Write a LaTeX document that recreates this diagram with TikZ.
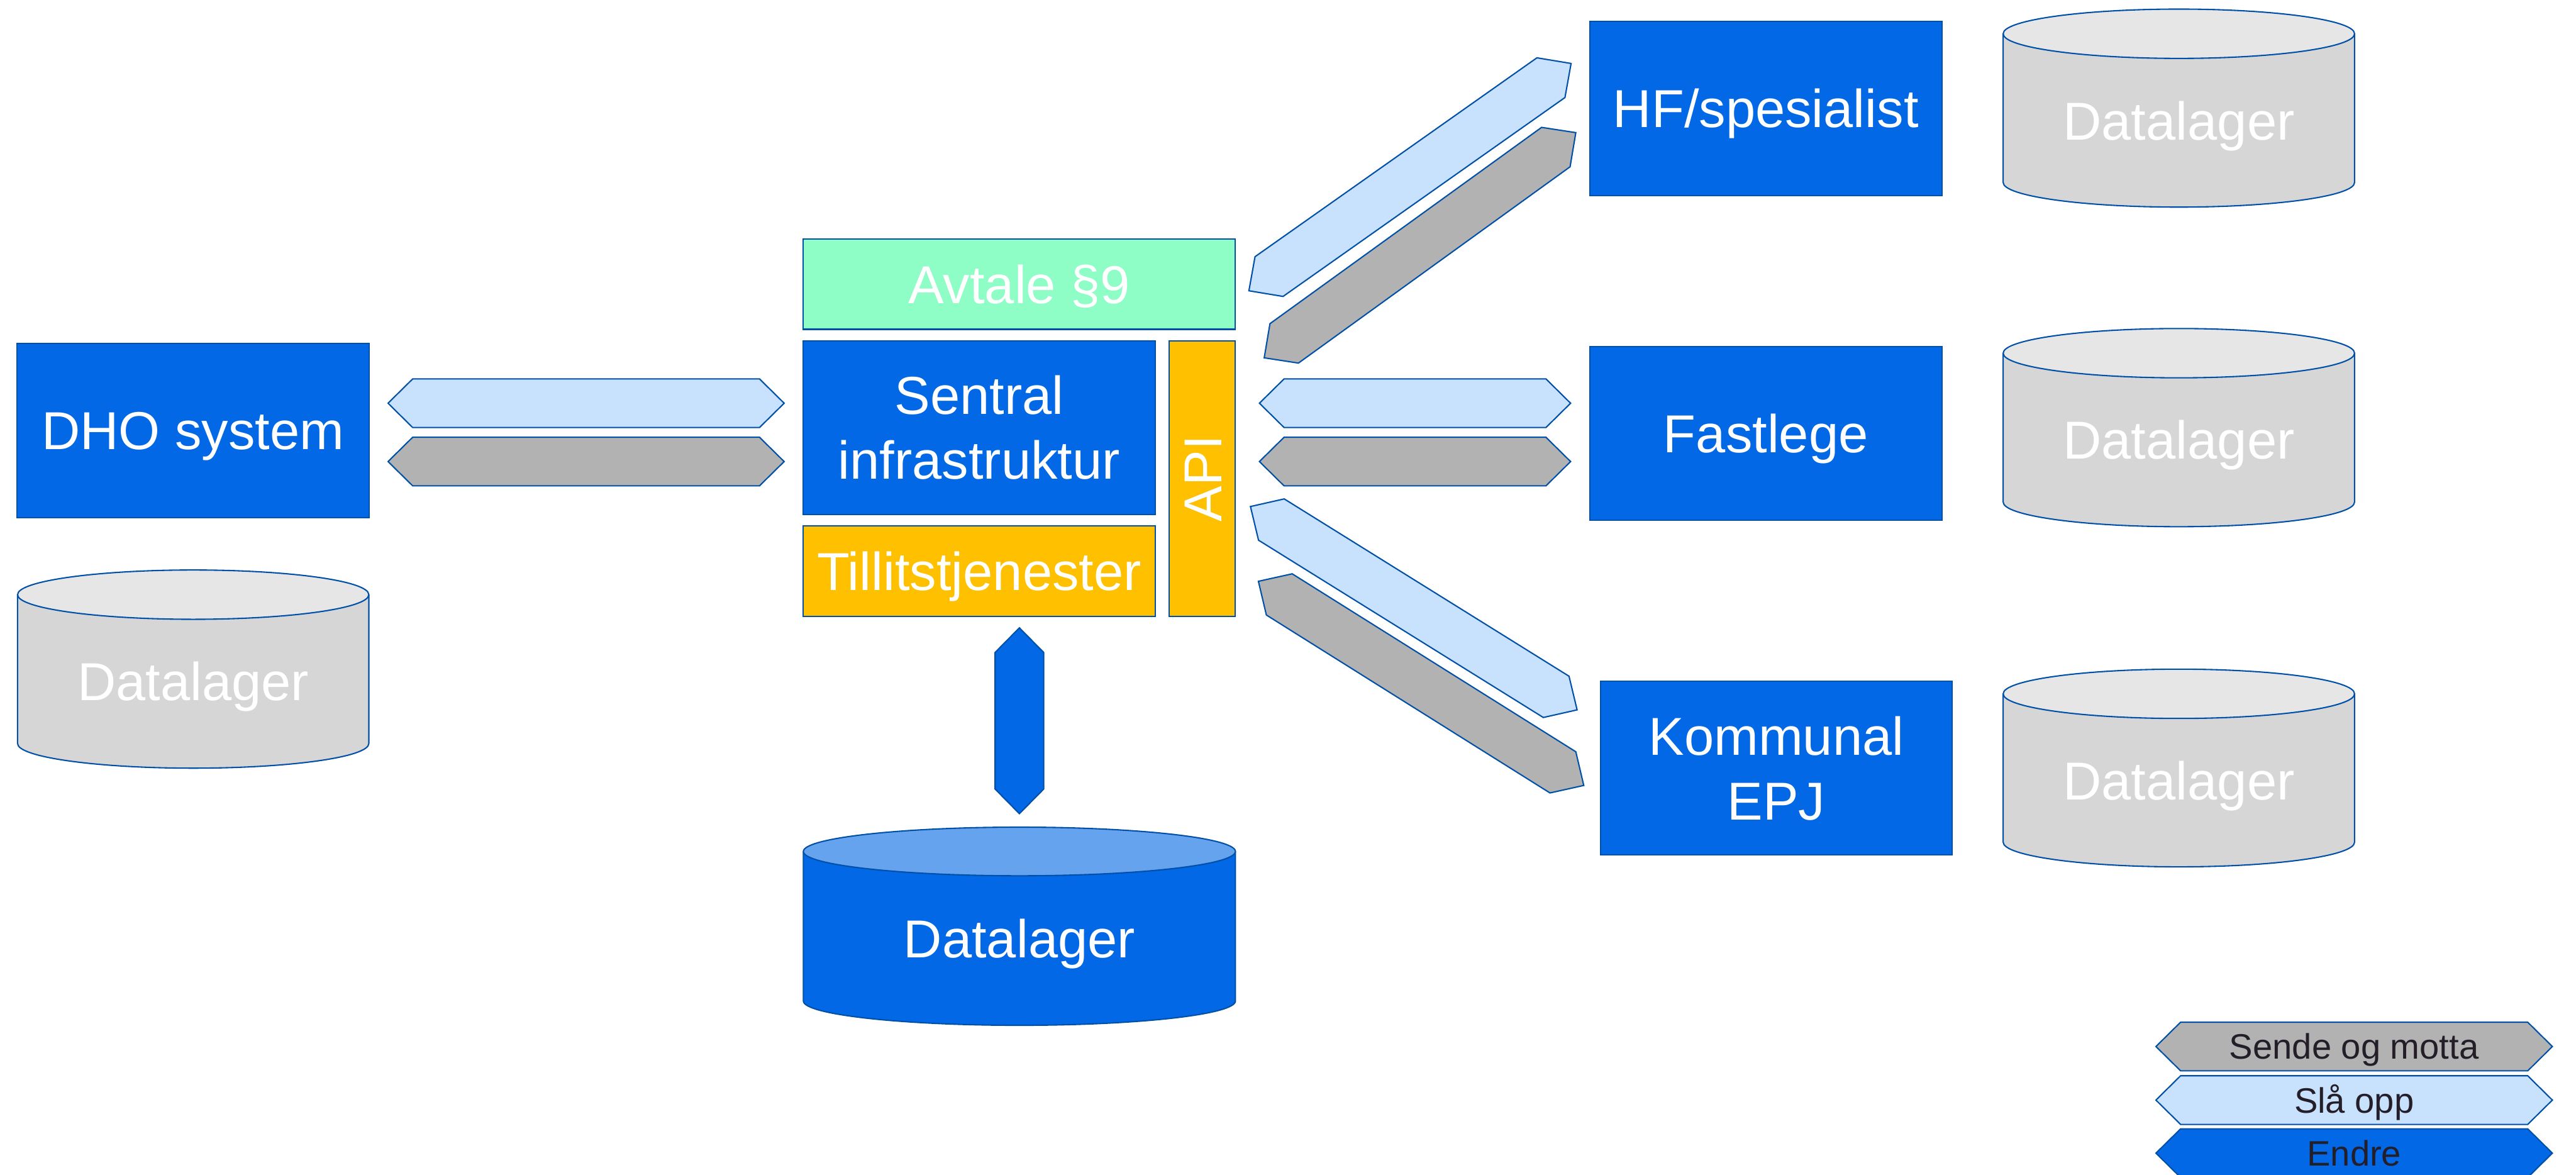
\documentclass[tikz,border=0pt]{standalone}
\usepackage{fontspec}
\setmainfont{Liberation Sans}

\tikzset{every picture/.style={line width=0.4pt}}
\tikzset{
  edge/.style={draw={rgb, 255:red, 0; green, 80; blue, 168 }},
  bluebox/.style={edge, fill={rgb, 255:red, 2; green, 104; blue, 230 }},
  avtalebox/.style={edge, fill={rgb, 255:red, 142; green, 253; blue, 198 }},
  tillitbox/.style={edge, fill={rgb, 255:red, 255; green, 192; blue, 0 }},
  sendmotta/.style={edge, fill={rgb, 255:red, 178; green, 178; blue, 178 }},
  slaopp/.style={edge, fill={rgb, 255:red, 200; green, 225; blue, 252 }},
  endre/.style={edge, fill={rgb, 255:red, 2; green, 104; blue, 230 }},
  lagerbody/.style={edge, fill={rgb, 255:red, 214; green, 214; blue, 214 }},
  lagertop/.style={edge, fill={rgb, 255:red, 230; green, 230; blue, 230 }},
  hubbody/.style={edge, fill={rgb, 255:red, 2; green, 104; blue, 230 }},
  hubtop/.style={edge, fill={rgb, 255:red, 102; green, 163; blue, 238 }},
  lbl/.style={text=white, inner sep=0pt, font=\fontsize{16.25}{19.7}\selectfont, text height=11.6pt, text depth=0pt},
  lbltwo/.style={text=white, inner sep=0pt, font=\fontsize{16.25}{19.7}\selectfont, align=center},
  legendlbl/.style={text={rgb, 255:red, 35; green, 30; blue, 40 }, inner sep=0pt, font=\fontsize{10.75}{13}\selectfont, text height=7.7pt, text depth=0pt},
  % double headed block arrow: half length, fill style
  pics/blockarrow/.style n args={2}{code={
    \draw [#2] (-#1,0) -- (-#1+15,-14.8) -- (#1-15,-14.8) -- (#1,0) -- (#1-15,14.8) -- (-#1+15,14.8) -- cycle ;
  }},
}

\begin{document}
\begin{tikzpicture}[x=0.5pt,y=0.5pt,yscale=-1,xscale=1]
        \useasboundingbox (0,0) rectangle (1568,715);

        %Shape: Rectangle [DHO system]
        \draw [bluebox] (10.3,209) rectangle (224.6,315) ;
        % Text Node
        \draw (117.45,262) node [lbl] (dho) {DHO system};

        %Shape: Can [DHO lager]
        \draw [lagerbody] (10.7,361.9) -- (10.7,452.5) arc [start angle=180, end angle=0, x radius=106.9, y radius=15] -- (224.5,361.9) ;
        \draw [lagertop] (117.6,361.9) ellipse [x radius=106.9, y radius=15] ;
        % Text Node
        \draw (117.6,414.6) node [lbl] (dholager) {Datalager};

        %Shape: Block arrows DHO <-> sentral
        \pic at (356.75,245.4) {blockarrow={120.55}{slaopp}};
        \pic at (356.75,280.9) {blockarrow={120.55}{sendmotta}};

        %Shape: Rectangle [Avtale]
        \draw [avtalebox] (489,145.5) rectangle (752,200.4) ;
        \draw (620.5,173) node [lbl] (avtale) {Avtale §9};
        %Shape: Rectangle [Sentral]
        \draw [bluebox] (489,207.5) rectangle (703.1,313.2) ;
        \draw (596,260.35) node [lbltwo] (sentral) {Sentral\\infrastruktur};
        %Shape: Rectangle [API]
        \draw [tillitbox] (711.8,207.5) rectangle (752,375) ;
        \draw (731.9,291.25) node [lbl, rotate=90] (api) {API};
        %Shape: Rectangle [Tillit]
        \draw [tillitbox] (489,320.2) rectangle (703.1,375) ;
        \draw (596,347.6) node [lbl] (tillit) {Tillitstjenester};

        %Shape: Block arrow sentral <-> lager
        \pic [rotate=90] at (620.5,438.65) {blockarrow={56.55}{endre}};

        %Shape: Can [sentral lager]
        \draw [hubbody] (489,518.2) -- (489,609.2) arc [start angle=180, end angle=0, x radius=131.5, y radius=14.8] -- (752,518.2) ;
        \draw [hubtop] (620.5,518.2) ellipse [x radius=131.5, y radius=14.8] ;
        \draw (620.5,571.1) node [lbl] (hublager) {Datalager};

        %Shape: Block arrows API <-> HF
        \pic [rotate=35.2] at (858.25,107.8) {blockarrow={120}{slaopp}};
        \pic [rotate=35.85] at (864.35,149.25) {blockarrow={117}{sendmotta}};
        %Shape: Block arrows API <-> fastlege
        \pic at (861.3,245.4) {blockarrow={94.7}{slaopp}};
        \pic at (861.3,280.9) {blockarrow={94.7}{sendmotta}};
        %Shape: Block arrows API <-> kommune
        \pic [rotate=-31.9] at (860.55,370.15) {blockarrow={117.1}{slaopp}};
        \pic [rotate=-32.1] at (865,415.9) {blockarrow={116.9}{sendmotta}};

        %Shape: Rectangle [HF]
        \draw [bluebox] (967.7,12.9) rectangle (1182,119) ;
        \draw (1074.85,66) node [lbl] (hf) {HF/spesialist};
        %Shape: Rectangle [Fastlege]
        \draw [bluebox] (967.7,210.9) rectangle (1182,316.7) ;
        \draw (1074.85,263.8) node [lbl] (fastlege) {Fastlege};
        %Shape: Rectangle [Kommunal]
        \draw [bluebox] (974.3,414.6) rectangle (1188.2,520.4) ;
        \draw (1081.25,467.5) node [lbltwo] (kommune) {Kommunal\\EPJ};

        %Shape: Can [HF lager]
        \draw [lagerbody] (1219.3,20.55) -- (1219.3,111.05) arc [start angle=180, end angle=0, x radius=106.95, y radius=15] -- (1433.2,20.55) ;
        \draw [lagertop] (1326.25,20.55) ellipse [x radius=106.95, y radius=15] ;
        \draw (1326.25,73.4) node [lbl] (hflager) {Datalager};
        %Shape: Can [fastlege lager]
        \draw [lagerbody] (1219.3,214.95) -- (1219.3,305.55) arc [start angle=180, end angle=0, x radius=106.95, y radius=15] -- (1433.2,214.95) ;
        \draw [lagertop] (1326.25,214.95) ellipse [x radius=106.95, y radius=15] ;
        \draw (1326.25,267.8) node [lbl] (fllager) {Datalager};
        %Shape: Can [kommune lager]
        \draw [lagerbody] (1219.3,422.25) -- (1219.3,512.55) arc [start angle=180, end angle=0, x radius=106.95, y radius=15] -- (1433.2,422.25) ;
        \draw [lagertop] (1326.25,422.25) ellipse [x radius=106.95, y radius=15] ;
        \draw (1326.25,475) node [lbl] (komlager) {Datalager};

        %Legend
        \pic at (1432.95,636.9) {blockarrow={120.65}{sendmotta}};
        \draw (1432.95,636.9) node [legendlbl] (lgsend) {Sende og motta};
        \pic at (1432.95,669.5) {blockarrow={120.65}{slaopp}};
        \draw (1432.95,669.5) node [legendlbl] (lgslaa) {Slå opp};
        \pic at (1432.95,701.8) {blockarrow={120.65}{endre}};
        \draw (1432.95,701.8) node [legendlbl] (lgendre) {Endre};
\end{tikzpicture}
\end{document}
